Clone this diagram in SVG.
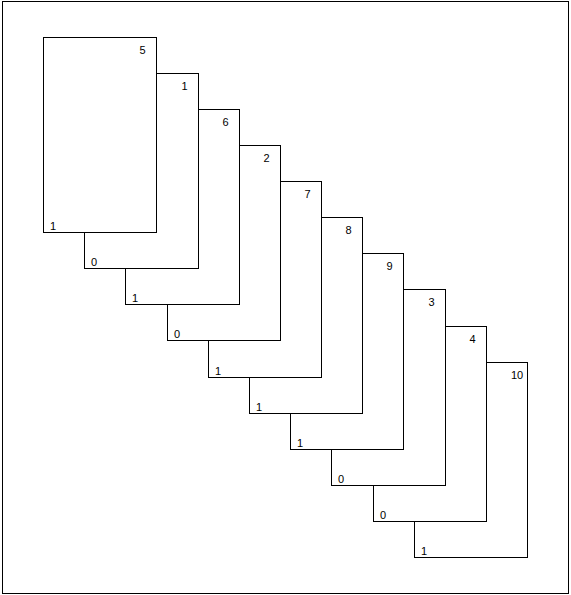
<svg xmlns="http://www.w3.org/2000/svg" width="571" height="595" viewBox="0 0 571 595">
<style>
.card{fill:#fff;stroke:#000;stroke-width:1}
.lbl{font-family:"Liberation Sans",Arial,sans-serif;font-size:11px;fill:#000}
</style>
<rect x="0" y="0" width="571" height="595" fill="#fff"/>
<rect id="frame" x="2.5" y="1.5" width="566" height="592" fill="none" stroke="#000" stroke-width="1"/>
<g id="connectors"></g>
<g id="card9"><rect class="card" x="414.5" y="362.5" width="113" height="195"/><text class="lbl" x="511" y="379">10</text><text class="lbl" x="421" y="555">1</text></g>
<g id="card8"><rect class="card" x="373.5" y="326.5" width="113" height="195"/><text class="lbl" x="469.5" y="343">4</text><text class="lbl" x="380" y="519">0</text></g>
<g id="card7"><rect class="card" x="331.5" y="289.5" width="114" height="196"/><text class="lbl" x="428.5" y="306">3</text><text class="lbl" x="338" y="483">0</text></g>
<g id="card6"><rect class="card" x="290.5" y="253.5" width="113" height="196"/><text class="lbl" x="386.5" y="270">9</text><text class="lbl" x="297" y="447">1</text></g>
<g id="card5"><rect class="card" x="249.5" y="217.5" width="113" height="196"/><text class="lbl" x="345.5" y="234">8</text><text class="lbl" x="256" y="411">1</text></g>
<g id="card4"><rect class="card" x="208.5" y="181.5" width="113" height="196"/><text class="lbl" x="304.5" y="198">7</text><text class="lbl" x="215" y="375">1</text></g>
<g id="card3"><rect class="card" x="167.5" y="145.5" width="113" height="195"/><text class="lbl" x="263.5" y="162">2</text><text class="lbl" x="174" y="338">0</text></g>
<g id="card2"><rect class="card" x="125.5" y="109.5" width="114" height="195"/><text class="lbl" x="222.5" y="126">6</text><text class="lbl" x="132" y="302">1</text></g>
<g id="card1"><rect class="card" x="84.5" y="73.5" width="114" height="195"/><text class="lbl" x="181.5" y="90">1</text><text class="lbl" x="91" y="266">0</text></g>
<g id="card0"><rect class="card" x="43.5" y="37.5" width="113" height="195"/><text class="lbl" x="139.5" y="54">5</text><text class="lbl" x="50" y="230">1</text></g>
</svg>
